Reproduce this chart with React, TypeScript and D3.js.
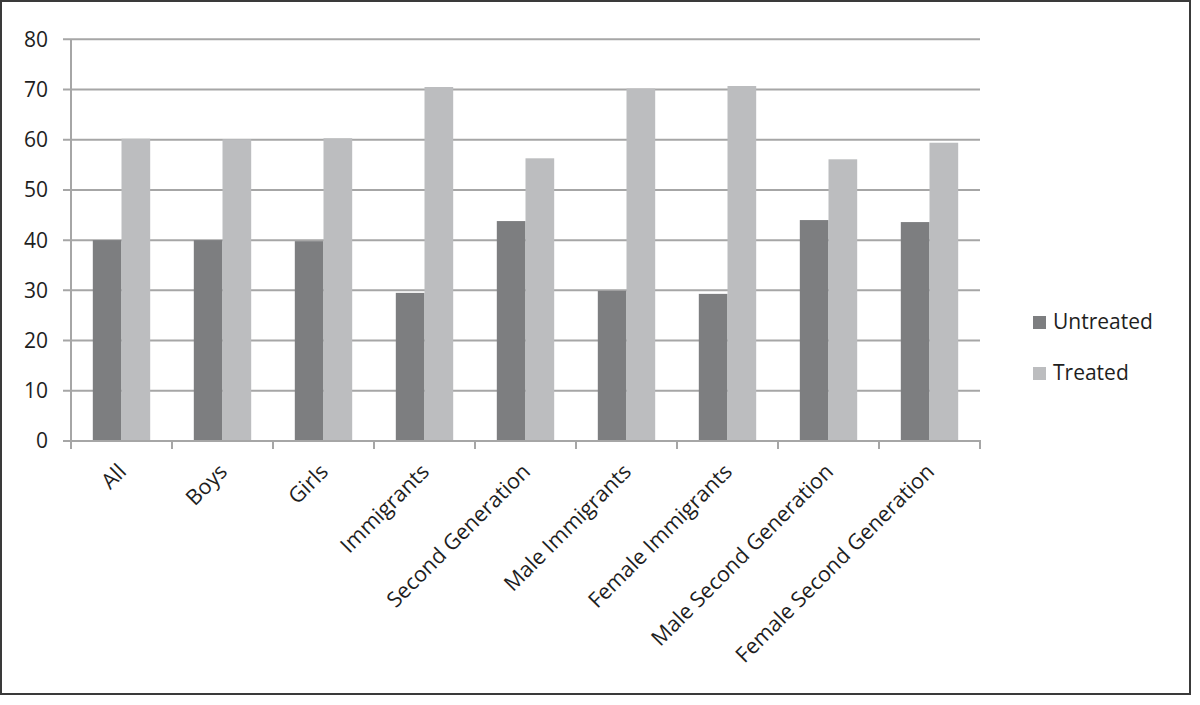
import { useEffect, useRef } from 'react';
import * as d3 from 'd3';

const categories = [
  'All',
  'Boys',
  'Girls',
  'Immigrants',
  'Second Generation',
  'Male Immigrants',
  'Female Immigrants',
  'Male Second Generation',
  'Female Second Generation',
];
const untreated = [40.0, 40.0, 39.8, 29.5, 43.8, 29.9, 29.3, 44.0, 43.6];
const treated = [60.2, 60.1, 60.3, 70.5, 56.3, 70.2, 70.7, 56.1, 59.4];
const seriesNames = ['Untreated', 'Treated'];
const seriesColors = ['#7d7e80', '#bcbdbf'];
const yTicks = [0, 10, 20, 30, 40, 50, 60, 70, 80];

const W = 1200;
const H = 705;
const FONT = '"Open Sans", sans-serif';

export default function App() {
  const svgRef = useRef<SVGSVGElement>(null);

  useEffect(() => {
    if (!svgRef.current) return;
    const svg = d3.select(svgRef.current);
    svg.selectAll('*').remove();

    const left = 71;
    const right = 980;
    const top = 39.3;
    const bottom = 441;

    const x = d3.scaleBand<string>().domain(categories).range([left, right]).paddingInner(0).paddingOuter(0);
    const inner = d3.scaleBand<string>().domain(seriesNames).range([0, x.bandwidth()]).paddingInner(0).paddingOuter(0.76);
    const y = d3.scaleLinear().domain([0, 80]).range([bottom, top]);

    // frame
    svg.append('rect')
      .attr('x', 1).attr('y', 1).attr('width', 1189).attr('height', 693)
      .attr('fill', '#fff').attr('stroke', '#3a3a3a').attr('stroke-width', 2);

    // gridlines + y labels
    yTicks.forEach(t => {
      svg.append('line')
        .attr('x1', left - 8).attr('x2', right)
        .attr('y1', y(t)).attr('y2', y(t))
        .attr('stroke', '#a6a6a6').attr('stroke-width', 2);
      svg.append('text')
        .attr('x', 48).attr('y', y(t))
        .attr('dy', '0.35em')
        .attr('text-anchor', 'end')
        .attr('font-family', FONT).attr('font-size', 21)
        .attr('fill', '#1e1e1e')
        .text(t);
    });

    // y axis line
    svg.append('line')
      .attr('x1', left).attr('x2', left).attr('y1', top).attr('y2', bottom)
      .attr('stroke', '#a6a6a6').attr('stroke-width', 2);

    // bars
    const data = [untreated, treated];
    data.forEach((vals, si) => {
      svg.append('g').selectAll('rect')
        .data(vals)
        .join('rect')
        .attr('x', (_, i) => (x(categories[i]) as number) + (inner(seriesNames[si]) as number))
        .attr('width', inner.bandwidth())
        .attr('y', d => y(d))
        .attr('height', d => bottom - y(d))
        .attr('fill', seriesColors[si]);
    });

    // x axis line and ticks
    svg.append('line')
      .attr('x1', left - 1).attr('x2', right + 1).attr('y1', bottom).attr('y2', bottom)
      .attr('stroke', '#a6a6a6').attr('stroke-width', 2);
    d3.range(categories.length + 1).forEach(i => {
      const tx = left + i * x.step();
      svg.append('line')
        .attr('x1', tx).attr('x2', tx).attr('y1', bottom).attr('y2', bottom + 8)
        .attr('stroke', '#a6a6a6').attr('stroke-width', 2);
    });

    // category labels
    categories.forEach(c => {
      const cx = (x(c) as number) + x.bandwidth() / 2 + 6;
      const cy = 473;
      svg.append('text')
        .attr('transform', `translate(${cx},${cy}) rotate(-45)`)
        .attr('text-anchor', 'end')
        .attr('font-family', FONT).attr('font-size', 21.5)
        .attr('fill', '#1e1e1e')
        .text(c);
    });

    // legend
    seriesNames.forEach((s, i) => {
      const ly = 316 + i * 51;
      svg.append('rect')
        .attr('x', 1033).attr('y', ly).attr('width', 13).attr('height', 13)
        .attr('fill', seriesColors[i]);
      svg.append('text')
        .attr('x', 1053).attr('y', ly + 13)
        .attr('font-family', FONT).attr('font-size', 21)
        .attr('fill', '#1e1e1e')
        .text(s);
    });
  }, []);

  return (
    <svg
      ref={svgRef}
      width={W}
      height={H}
      style={{ position: 'absolute', left: 0, top: 0, background: '#fff' }}
    />
  );
}
